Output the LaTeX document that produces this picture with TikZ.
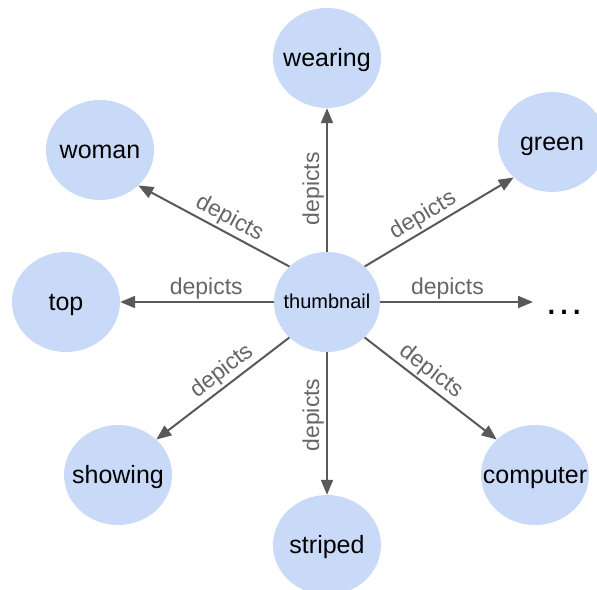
\documentclass[tikz,border=0pt]{standalone}
\usepackage{fontspec}
\setmainfont{Liberation Sans}
\usepackage{tikz}
\usetikzlibrary{arrows.meta,shapes}
\definecolor{termblue}{HTML}{C9DAF8}
\definecolor{linkgray}{HTML}{595959}
\definecolor{labelgray}{HTML}{666666}
\tikzstyle{aS}=[every edge/.style={draw=linkgray,line width=2pt,-{Triangle[length=15pt,width=12pt]}}]
% the text is boxed to zero width so the ellipse keeps its fixed size
\tikzstyle{term}=[ellipse,fill=termblue,minimum width=108pt,minimum height=100pt,inner sep=0,
               text height=17pt,text depth=0pt,font=\fontsize{25}{30}\selectfont,
               execute at begin node=\hbox to 0pt\bgroup\hss,execute at end node=\hss\egroup]
\tikzstyle{hub}=[term,minimum width=106pt,text height=13.5pt,font=\fontsize{20}{24}\selectfont]
\tikzstyle{dep}=[pos=0.44,above,inner sep=2pt,text=labelgray,font=\fontsize{23}{27}\selectfont]
\newcommand{\depicts}[4][sloped]{\path (thumb.#2) edge node[dep,#1]{depicts} (#3.#4);}

\begin{document}
\begin{tikzpicture}[aS,x=1pt,y=-1pt]
    \useasboundingbox (0,0) rectangle (597,589);

    \node[hub] (thumb) at (327,302) {thumbnail};
    \node[term] (wearing) at (327,58) {wearing};
    \node[term] (woman) at (100,150) {woman};
    \node[term] (green) at (552,142) {green};
    \node[term] (top) at (66,302) {top};
    \node[term] (showing) at (118,475) {showing};
    \node[term] (striped) at (327,545) {striped};
    \node[term] (computer) at (535,475) {computer};
    \coordinate (moreTip) at (533,302);
    \node[anchor=base,inner sep=0,font=\fontsize{40}{48}\selectfont] (more) at (564,314) {…};

    \depicts{north}{wearing}{south}
    \depicts{north east}{green}{south west}
    \depicts{north west}{woman}{south east}
    \depicts{west}{top}{east}
    \depicts{east}{moreTip}{center}
    \depicts{south west}{showing}{north east}
    \depicts[rotate=90]{south}{striped}{north}
    \depicts{south east}{computer}{north west}
\end{tikzpicture}
\end{document}
